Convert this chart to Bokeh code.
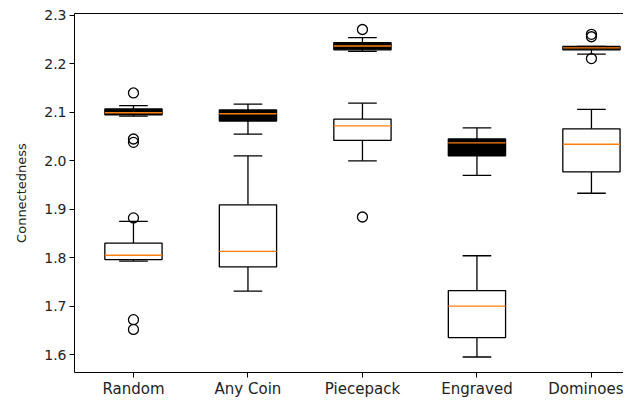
from bokeh.plotting import figure
from bokeh.models import Range1d, FixedTicker, LinearAxis, ColumnDataSource
from bokeh.embed import file_html
from bokeh.resources import INLINE

categories = ["Random", "Any Coin", "Piecepack", "Engraved", "Dominoes"]
positions = [1, 2, 3, 4, 5]

# upper cluster of boxes (drawn dark)
upper_lo = [2.092, 2.055, 2.226, 1.970, 2.220]
upper_q1 = [2.095, 2.082, 2.229, 2.010, 2.229]
upper_med = [2.099, 2.097, 2.237, 2.037, 2.233]
upper_q3 = [2.107, 2.105, 2.244, 2.045, 2.236]
upper_hi = [2.114, 2.117, 2.254, 2.068, 2.236]

# lower cluster of boxes
lower_lo = [1.793, 1.731, 2.000, 1.595, 1.933]
lower_q1 = [1.796, 1.781, 2.042, 1.635, 1.977]
lower_med = [1.805, 1.813, 2.072, 1.700, 2.034]
lower_q3 = [1.830, 1.909, 2.086, 1.732, 2.066]
lower_hi = [1.875, 2.010, 2.119, 1.804, 2.106]

outlier_pos = [1, 1, 1, 1, 1, 1, 3, 3, 5, 5, 5]
outlier_val = [2.140, 2.045, 2.038, 1.882, 1.672, 1.652, 2.271, 1.884, 2.261, 2.256, 2.211]

yticks = [1.6, 1.7, 1.8, 1.9, 2.0, 2.1, 2.2, 2.3]

BOX_W = 0.5
CAP_W = 0.25
FONT = "DejaVu Sans"

p = figure(width=623, height=400, output_backend="svg", toolbar_location=None,
           x_range=Range1d(0.485, 5.28), y_range=Range1d(1.563, 2.304),
           min_border_left=74, min_border_right=0, min_border_top=13, min_border_bottom=22)
p.outline_line_color = None
p.xgrid.visible = False
p.ygrid.visible = False
p.background_fill_color = "white"


def draw(lo, q1, med, q3, hi, fill):
    src = ColumnDataSource(dict(
        x=positions, lo=lo, q1=q1, med=med, q3=q3, hi=hi,
        xl=[x - BOX_W / 2 for x in positions], xr=[x + BOX_W / 2 for x in positions],
        cl=[x - CAP_W / 2 for x in positions], cr=[x + CAP_W / 2 for x in positions],
    ))
    p.segment(x0="x", y0="q3", x1="x", y1="hi", source=src, line_color="black", line_width=1.3)
    p.segment(x0="x", y0="lo", x1="x", y1="q1", source=src, line_color="black", line_width=1.3)
    p.segment(x0="cl", y0="hi", x1="cr", y1="hi", source=src, line_color="black", line_width=1.3)
    p.segment(x0="cl", y0="lo", x1="cr", y1="lo", source=src, line_color="black", line_width=1.3)
    p.quad(left="xl", right="xr", bottom="q1", top="q3", source=src,
           fill_color=fill, line_color="black", line_width=1.3)
    p.segment(x0="xl", y0="med", x1="xr", y1="med", source=src, line_color="#ff7f0e", line_width=1.4)


draw(lower_lo, lower_q1, lower_med, lower_q3, lower_hi, "white")
draw(upper_lo, upper_q1, upper_med, upper_q3, upper_hi, "black")

p.scatter(outlier_pos, outlier_val, marker="circle", size=10, fill_color=None,
          line_color="black", line_width=1.3)

# axes styling
p.xaxis.ticker = FixedTicker(ticks=positions)
p.xaxis.major_label_overrides = {pos: c for pos, c in zip(positions, categories)}
p.yaxis.ticker = FixedTicker(ticks=yticks)
p.yaxis.major_label_overrides = {t: f"{t:.1f}" for t in yticks}
p.yaxis.axis_label = "Connectedness"

for ax in (p.xaxis[0], p.yaxis[0]):
    ax.axis_line_color = "black"
    ax.axis_line_width = 1
    ax.major_tick_line_color = "black"
    ax.major_tick_out = 5
    ax.major_tick_in = 0
    ax.minor_tick_line_color = None
    ax.major_label_text_font = FONT
    ax.major_label_text_color = "#222222"
    ax.major_label_standoff = 3
p.xaxis.major_label_standoff = 2
p.xaxis.major_label_text_font_size = "15px"
p.yaxis.major_label_text_font_size = "14px"
p.yaxis.axis_label_text_font = FONT
p.yaxis.axis_label_text_font_size = "13px"
p.yaxis.axis_label_text_font_style = "normal"
p.yaxis.axis_label_text_color = "#222222"
p.yaxis.axis_label_standoff = 12

top = LinearAxis(ticker=FixedTicker(ticks=[]), major_label_text_font_size="0px",
                 major_tick_out=0, major_tick_in=0, minor_tick_out=0, minor_tick_in=0,
                 major_label_standoff=0, axis_line_color="black")
p.add_layout(top, "above")

open("out.html", "w").write(file_html(p, INLINE))
